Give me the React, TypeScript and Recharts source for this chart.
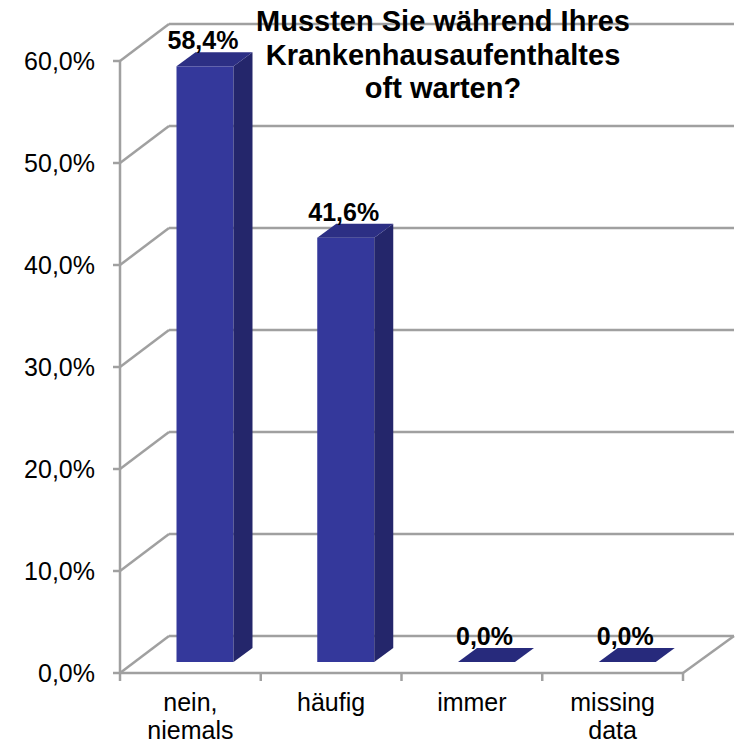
import { BarChart, Bar, XAxis, YAxis, CartesianGrid, LabelList } from 'recharts';

const categories = ['nein, niemals', 'häufig', 'immer', 'missing data'];
const shares = [58.4, 41.6, 0, 0];
const yTicks = [0, 10, 20, 30, 40, 50, 60];
const title = ['Mussten Sie während Ihres', 'Krankenhausaufenthaltes', 'oft warten?'];

const W = 738;
const H = 745;
const MARGIN = { top: 61, right: 55, bottom: 0, left: 0 };
const Y_AXIS_W = 120;
const X_AXIS_H = 72;
const PLOT_W = W - MARGIN.left - MARGIN.right - Y_AXIS_W;
const PLOT_BOTTOM = H - MARGIN.bottom - X_AXIS_H;
const BAND = PLOT_W / categories.length;

// depth of the side wall / floor
const WALL_DX = 49;
const WALL_DY = -37;
// bar front face sits a bit into the floor, bars have their own depth
const BAR_DX = 14.5;
const BAR_DY = -11;
const DEPTH_DX = 19;
const DEPTH_DY = -14;

const FONT = "Arial, 'Liberation Sans', sans-serif";
const GRID = '#a0a0a0';

const data = categories.map((name, i) => ({ name, value: shares[i] }));

const fmt = (v: number) => `${v.toFixed(1).replace('.', ',')}%`;

function GridLine(props: any) {
    const { x1, y1, x2 } = props;
    const bx = x1 + WALL_DX;
    const by = y1 + WALL_DY;
    const isFloor = Math.abs(y1 - PLOT_BOTTOM) < 1;
    return (
        <g key={props.key}>
            <line x1={x1} y1={y1} x2={bx} y2={by} stroke={GRID} strokeWidth={2.5} />
            <line x1={bx} y1={by} x2={x2 + WALL_DX + 2} y2={by} stroke={GRID} strokeWidth={2.5} />
            {isFloor && (
                <line x1={x2} y1={y1} x2={x2 + WALL_DX + 2} y2={by} stroke={GRID} strokeWidth={2.5} />
            )}
        </g>
    );
}

function Bar3D(props: any) {
    const { x, y, width, height } = props;
    const fx = x + BAR_DX;
    const fy = y + BAR_DY;
    const h = Math.max(0, height);
    const top = `${fx},${fy} ${fx + width},${fy} ${fx + width + DEPTH_DX},${fy + DEPTH_DY} ${fx + DEPTH_DX},${fy + DEPTH_DY}`;
    const side = `${fx + width},${fy} ${fx + width + DEPTH_DX},${fy + DEPTH_DY} ${fx + width + DEPTH_DX},${fy + h + DEPTH_DY} ${fx + width},${fy + h}`;
    return (
        <g>
            {h > 0 && <rect x={fx} y={fy} width={width} height={h} fill="#34389b" />}
            {h > 0 && <polygon points={side} fill="#24266b" />}
            <polygon points={top} fill={h > 0 ? '#2c2f84' : '#272a7c'} />
        </g>
    );
}

function ValueLabel(props: any) {
    const { x, y, width, value } = props;
    return (
        <text
            x={x + BAR_DX + width / 2 - 2}
            y={y - 28}
            textAnchor="middle"
            fontFamily={FONT}
            fontWeight="bold"
            fontSize={25}
            fill="#000"
        >
            {fmt(Number(value))}
        </text>
    );
}

function CategoryTick(props: any) {
    const { x, y, payload, index } = props;
    const axisY = y - 8;
    const lines = String(payload.value).split(' ');
    const left = x - BAND / 2;
    const right = x + BAND / 2;
    return (
        <g>
            <line x1={left} y1={axisY} x2={left} y2={axisY + 8} stroke={GRID} strokeWidth={2.5} />
            {index === categories.length - 1 && (
                <line x1={right} y1={axisY} x2={right} y2={axisY + 8} stroke={GRID} strokeWidth={2.5} />
            )}
            <text x={x} y={y} textAnchor="middle" fontFamily={FONT} fontSize={25} fill="#000">
                {lines.map((l, i) => (
                    <tspan key={i} x={x} dy={i === 0 ? 30 : 28}>{l}</tspan>
                ))}
            </text>
        </g>
    );
}

export default function App() {
    return (
        <div style={{ position: 'absolute', left: 0, top: 0, width: W, height: H, background: '#fff' }}>
            <BarChart width={W} height={H} data={data} margin={MARGIN}>
                <CartesianGrid vertical={false} horizontal={GridLine} />
                <XAxis
                    dataKey="name"
                    height={X_AXIS_H}
                    axisLine={{ stroke: GRID, strokeWidth: 2.5 }}
                    tickLine={false}
                    tickSize={8}
                    tickMargin={0}
                    interval={0}
                    tick={CategoryTick}
                />
                <YAxis
                    width={Y_AXIS_W}
                    domain={[0, 60]}
                    ticks={yTicks}
                    axisLine={{ stroke: GRID, strokeWidth: 2.5 }}
                    tickLine={{ stroke: GRID, strokeWidth: 2.5 }}
                    tickSize={7}
                    tickMargin={18}
                    tickFormatter={fmt}
                    tick={{ fill: '#000', fontSize: 25, fontFamily: FONT }}
                />
                <Bar dataKey="value" barSize={57} shape={Bar3D} isAnimationActive={false}>
                    <LabelList dataKey="value" content={ValueLabel} />
                </Bar>
            </BarChart>
            <div
                style={{
                    position: 'absolute',
                    left: 193,
                    top: 5,
                    width: 500,
                    textAlign: 'center',
                    fontFamily: FONT,
                    fontWeight: 'bold',
                    fontSize: 29,
                    lineHeight: '33.5px',
                    color: '#000',
                }}
            >
                {title.map((t, i) => (
                    <div key={i}>{t}</div>
                ))}
            </div>
        </div>
    );
}
